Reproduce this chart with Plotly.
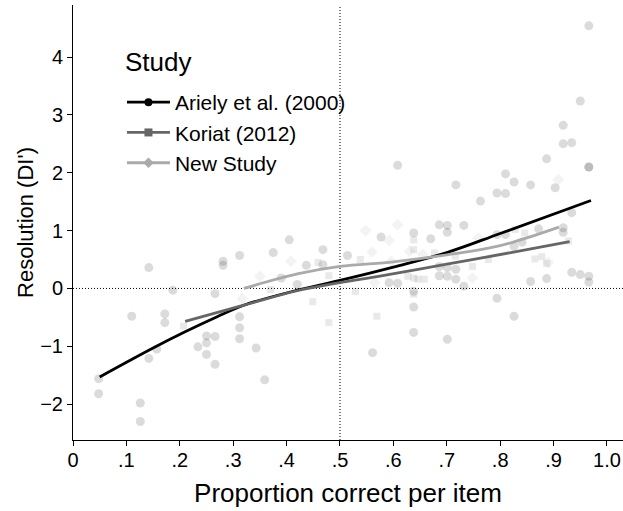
import plotly.graph_objects as go

# Item-level observations per study: proportion correct vs. resolution
ariely_x = [0.048, 0.048, 0.110, 0.126, 0.126, 0.142, 0.142, 0.157, 0.172, 0.172,
            0.187, 0.234, 0.250, 0.250, 0.250, 0.266, 0.266, 0.266, 0.281, 0.281,
            0.312, 0.312, 0.312, 0.312, 0.343, 0.359, 0.375, 0.390, 0.405, 0.420,
            0.437, 0.468, 0.468, 0.514, 0.561, 0.577, 0.592, 0.608, 0.608, 0.638,
            0.638, 0.638, 0.638, 0.670, 0.686, 0.686, 0.686, 0.701, 0.701, 0.701,
            0.701, 0.701, 0.717, 0.717, 0.717, 0.732, 0.732, 0.763, 0.794, 0.794,
            0.794, 0.810, 0.810, 0.810, 0.826, 0.826, 0.826, 0.841, 0.857, 0.857,
            0.872, 0.887, 0.887, 0.903, 0.918, 0.918, 0.918, 0.918, 0.934, 0.934,
            0.934, 0.950, 0.950, 0.966, 0.966, 0.966, 0.966, 0.966]
ariely_y = [-1.56, -1.82, -0.48, -1.98, -2.30, 0.36, -1.21, -1.05, -0.44, -0.59,
            -0.03, -1.01, -0.82, -0.94, -1.14, -0.09, -0.83, -1.31, 0.47, 0.40,
            0.57, -0.49, -0.68, -0.87, -1.03, -1.58, 0.62, 0.18, 0.84, 0.07,
            0.40, 0.67, 0.41, 0.57, -1.11, 0.89, 0.10, 0.09, 2.13, 0.96,
            -0.05, -0.32, -0.76, 0.86, 1.10, 0.38, 0.22, 1.09, 0.97, 0.36,
            0.21, -0.88, 1.79, 0.33, 0.16, 1.09, 0.04, 1.51, 1.65, 0.93,
            -0.17, 1.98, 1.64, 0.93, 1.84, 0.73, -0.48, 0.80, 1.79, 0.12,
            1.03, 2.24, 0.17, 1.74, 2.82, 2.50, 1.05, 0.97, 2.52, 1.31,
            0.28, 3.24, 0.24, 4.54, 2.10, 2.10, 0.21, 0.11]

koriat_x = [0.207, 0.370, 0.449, 0.459, 0.479, 0.479, 0.529, 0.538, 0.569, 0.627,
            0.638, 0.638, 0.638, 0.638, 0.646, 0.658, 0.677, 0.716, 0.748, 0.778,
            0.828, 0.846, 0.865, 0.878, 0.887, 0.928]
koriat_y = [-0.65, -0.02, -0.23, 0.45, 0.22, -0.59, -0.05, 0.50, -0.48, 0.21,
            0.84, 0.67, 0.18, -0.10, 0.16, 0.16, 0.61, 0.56, 0.38, 0.50,
            1.02, 0.96, 0.51, 0.55, 0.43, 0.82]

new_x = [0.317, 0.350, 0.408, 0.548, 0.560, 0.565, 0.592, 0.596, 0.608, 0.630,
         0.655, 0.748, 0.759, 0.890, 0.909]
new_y = [-0.18, 0.21, 0.47, 1.00, 0.63, 0.10, 0.83, 0.47, 1.10, 0.64,
         0.59, 0.18, 0.87, 0.45, 1.88]

# Fitted curves per study
ariely_fit_x = [0.05, 0.15, 0.21, 0.27, 0.32, 0.42, 0.50, 0.60, 0.70, 0.80, 0.97]
ariely_fit_y = [-1.53, -1.03, -0.75, -0.49, -0.29, -0.03, 0.14, 0.37, 0.62, 0.95, 1.52]
koriat_fit_x = [0.21, 0.32, 0.42, 0.50, 0.58, 0.70, 0.82, 0.93]
koriat_fit_y = [-0.57, -0.29, -0.04, 0.10, 0.22, 0.42, 0.62, 0.81]
new_fit_x = [0.32, 0.42, 0.50, 0.60, 0.70, 0.80, 0.91]
new_fit_y = [0.00, 0.25, 0.38, 0.46, 0.58, 0.74, 1.06]

studies = ["Ariely et al. (2000)", "Koriat (2012)", "New Study"]
colors = ["#000000", "#666666", "#aaaaaa"]
symbols = ["circle", "square", "diamond"]
point_sizes = [9, 7, 9]

x_ticks = [0, 0.1, 0.2, 0.3, 0.4, 0.5, 0.6, 0.7, 0.8, 0.9, 1.0]
x_tick_text = ["0", ".1", ".2", ".3", ".4", ".5", ".6", ".7", ".8", ".9", "1.0"]
y_ticks = [-2, -1, 0, 1, 2, 3, 4]
y_tick_text = ["\u22122", "\u22121", "0", "1", "2", "3", "4"]

FONT = "Liberation Sans, Arial, Helvetica, sans-serif"

fig = go.Figure()

points = [(ariely_x, ariely_y), (koriat_x, koriat_y), (new_x, new_y)]
fits = [(ariely_fit_x, ariely_fit_y), (koriat_fit_x, koriat_fit_y), (new_fit_x, new_fit_y)]

for i, (px, py) in enumerate(points):
    fig.add_trace(go.Scatter(
        x=px, y=py, mode="markers", showlegend=False, hoverinfo="skip",
        marker=dict(symbol=symbols[i], size=point_sizes[i], color=colors[i],
                    opacity=0.14, line=dict(width=0)),
    ))

for i, (fx, fy) in enumerate(fits):
    fig.add_trace(go.Scatter(
        x=fx, y=fy, mode="lines", showlegend=False, hoverinfo="skip",
        line=dict(color=colors[i], width=2.8, shape="spline", smoothing=1.0),
    ))

# Legend keys (line + marker) per study
for i, name in enumerate(studies):
    fig.add_trace(go.Scatter(
        x=[None], y=[None], mode="lines+markers", name=name, legendgroup=name,
        line=dict(color=colors[i], width=2.8),
        marker=dict(symbol=symbols[i], size=8, color=colors[i]),
    ))

# Reference lines at chance level / zero resolution
fig.add_shape(type="line", xref="x", yref="paper", x0=0.5, x1=0.5, y0=0, y1=1,
              line=dict(color="black", width=1, dash="1px,2px"), layer="below")
fig.add_shape(type="line", xref="paper", yref="y", x0=0, x1=1, y0=0, y1=0,
              line=dict(color="black", width=1, dash="1px,2px"), layer="below")

fig.add_annotation(text="Study", xref="paper", yref="paper", x=0.09, y=0.869,
                   xanchor="left", yanchor="middle", showarrow=False,
                   font=dict(size=26, family=FONT, color="black"))

fig.update_layout(
    width=623, height=511,
    margin=dict(l=73, r=0, t=5, b=71),
    paper_bgcolor="white", plot_bgcolor="white",
    font=dict(family=FONT, color="black", size=20),
    showlegend=True,
    legend=dict(
        x=0.089, y=0.823, xanchor="left", yanchor="top",
        bgcolor="rgba(0,0,0,0)", font=dict(size=21),
        tracegroupgap=0, itemwidth=43,
    ),
    xaxis=dict(
        range=[0, 1.03], tickvals=x_ticks, ticktext=x_tick_text,
        showgrid=False, zeroline=False, showline=True, linecolor="black", linewidth=1,
        ticks="outside", ticklen=5, tickcolor="black", tickfont=dict(size=20),
        ticklabelstandoff=-3,
        title=dict(text="Proportion correct per item", font=dict(size=26), standoff=13),
    ),
    yaxis=dict(
        range=[-2.62, 4.9], tickvals=y_ticks, ticktext=y_tick_text,
        showgrid=False, zeroline=False, showline=True, linecolor="black", linewidth=1,
        ticks="outside", ticklen=5, tickcolor="black", tickfont=dict(size=20),
        title=dict(text="Resolution (DI')", font=dict(size=22), standoff=0),
    ),
)

fig.write_html("out.html")
